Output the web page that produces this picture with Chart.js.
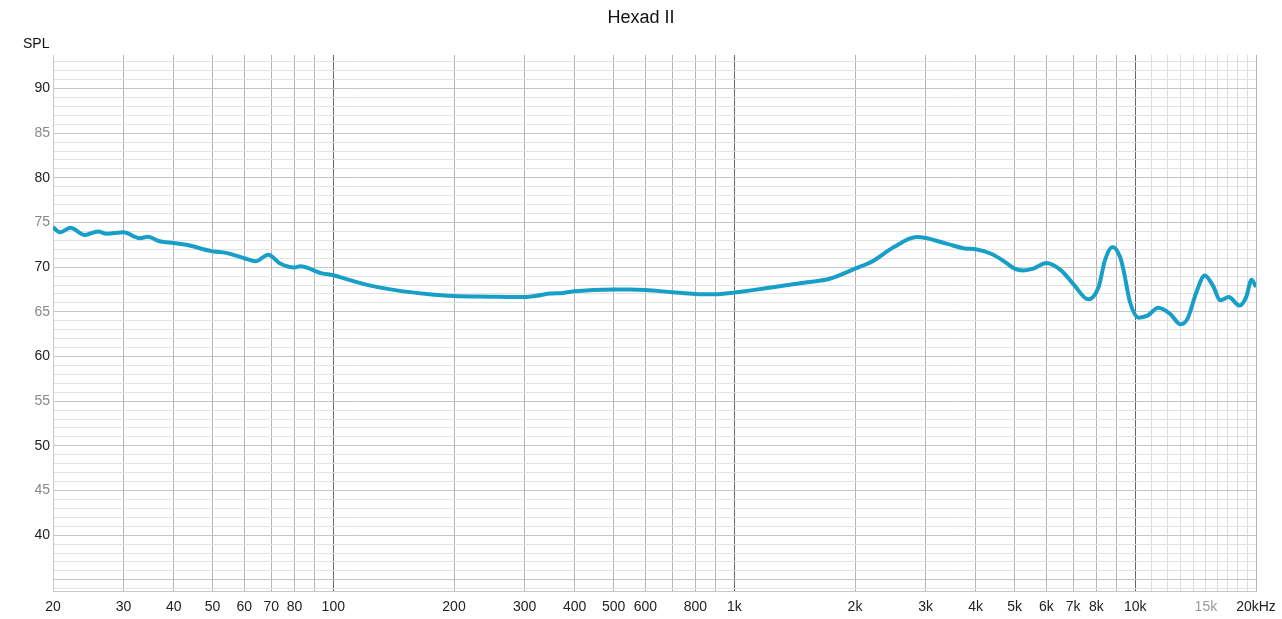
<!DOCTYPE html>
<html>
<head>
<meta charset="utf-8">
<title>Hexad II</title>
<script src="https://cdn.jsdelivr.net/npm/chart.js@4.4.1/dist/chart.umd.min.js"></script>
<style>
  html, body { margin: 0; padding: 0; background: #fff; }
  #wrap { width: 1282px; height: 619px; }
</style>
</head>
<body>
<div id="wrap"><canvas id="chart" width="1282" height="619"></canvas></div>
<script>
// frequency response
const freqs = [20, 20.8, 22.1, 24.0, 25.9, 27.2, 30, 32.9, 34.5, 36.9, 40, 43, 50, 54, 60, 64, 68.8, 73.7, 80, 82.7, 93.7, 100, 109, 123, 144, 171, 200, 246, 300, 322, 346, 375, 400, 500, 548, 600, 700, 800, 890, 1000, 1100, 1260, 1520, 1730, 2000, 2230, 2500, 2850, 3000, 3400, 3750, 4000, 4370, 4710, 5000, 5260, 5570, 6000, 6530, 7050, 7630, 8100, 8400, 8770, 9170, 9350, 9700, 10200, 10750, 11400, 12200, 12970, 13500, 14200, 14900, 15600, 16300, 17100, 18200, 18900, 19500, 20000];
const spl = [74.5, 73.9, 74.4, 73.6, 74.0, 73.75, 73.9, 73.25, 73.4, 72.9, 72.7, 72.5, 71.77, 71.6, 71.0, 70.65, 71.4, 70.4, 69.95, 70.1, 69.3, 69.1, 68.6, 67.96, 67.4, 67.0, 66.77, 66.7, 66.65, 66.8, 67.05, 67.12, 67.3, 67.5, 67.5, 67.44, 67.2, 67.0, 66.96, 67.15, 67.4, 67.78, 68.3, 68.7, 69.83, 70.76, 72.25, 73.37, 73.26, 72.6, 72.1, 72.0, 71.5, 70.65, 69.83, 69.64, 69.83, 70.46, 69.64, 67.96, 66.4, 67.78, 70.76, 72.25, 71.1, 69.64, 66.1, 64.35, 64.6, 65.47, 64.8, 63.6, 64.24, 67.2, 69.08, 67.96, 66.3, 66.65, 65.7, 66.65, 68.6, 67.78];

// grid lines and labels
const xGrid = [20, 30, 40, 50, 60, 70, 80, 90, 100, 200, 300, 400, 500, 600, 700, 800, 900, 1000, 2000, 3000, 4000, 5000, 6000, 7000, 8000, 9000, 10000, 11000, 12000, 13000, 14000, 15000, 16000, 17000, 18000, 19000, 20000];
const xLabels = { 20: "20", 30: "30", 40: "40", 50: "50", 60: "60", 70: "70", 80: "80", 100: "100", 200: "200", 300: "300", 400: "400", 500: "500", 600: "600", 800: "800", 1000: "1k", 2000: "2k", 3000: "3k", 4000: "4k", 5000: "5k", 6000: "6k", 7000: "7k", 8000: "8k", 10000: "10k", 15000: "15k", 20000: "20kHz" };
const yLabels = [40, 45, 50, 55, 60, 65, 70, 75, 80, 85, 90];

const font = "'Liberation Sans', Arial, Helvetica, sans-serif";

const points = freqs.map((f, i) => ({ x: f, y: spl[i] }));

const textPlugin = {
  id: "texts",
  afterDraw(chart) {
    const ctx = chart.ctx;
    ctx.save();
    ctx.fillStyle = "#111";
    ctx.textBaseline = "middle";
    ctx.textAlign = "center";
    ctx.font = "18px " + font;
    ctx.fillText("Hexad II", 641, 18);
    ctx.textAlign = "left";
    ctx.font = "14px " + font;
    ctx.fillText("SPL", 23, 44);
    ctx.restore();
  }
};

new Chart(document.querySelector("#chart"), {
  type: "line",
  data: {
    datasets: [{
      data: points,
      borderColor: "#189fc8",
      borderWidth: 4,
      pointRadius: 0,
      cubicInterpolationMode: "monotone",
      fill: false
    }]
  },
  options: {
    responsive: false,
    animation: false,
    layout: { padding: { top: 55, right: 26, left: 0, bottom: 0 } },
    plugins: {
      legend: { display: false },
      title: { display: false },
      tooltip: { enabled: false }
    },
    scales: {
      x: {
        type: "logarithmic",
        min: 20,
        max: 20000,
        afterBuildTicks(scale) {
          scale.ticks = xGrid.map((v) => ({ value: v }));
        },
        afterFit(scale) {
          scale.height = 28;
          scale.paddingLeft = 0;
          scale.paddingRight = 0;
        },
        grid: {
          drawTicks: false,
          color(c) {
            const v = c.tick ? c.tick.value : 0;
            if (v === 100 || v === 1000 || v === 10000) return "#666";
            if (v > 10000 && v < 20000) return "#dcdcdc";
            return "#b4b4b4";
          }
        },
        border: { color: "#c8c8c8" },
        ticks: {
          autoSkip: false,
          maxRotation: 0,
          padding: 8,
          font: { family: font, size: 14 },
          color(c) { return c.tick && c.tick.value === 15000 ? "#999" : "#222"; },
          callback(v) { return xLabels[v] || ""; }
        }
      },
      y: {
        type: "linear",
        min: 33.75,
        max: 93.75,
        afterBuildTicks(scale) {
          const t = [];
          for (let v = 34; v <= 93; v++) t.push({ value: v });
          scale.ticks = t;
        },
        afterFit(scale) { scale.width = 53; },
        grid: {
          drawTicks: false,
          color(c) {
            const v = c.tick ? c.tick.value : 0;
            return v % 5 === 0 ? "#c4c4c4" : "#e2e2e2";
          }
        },
        border: { color: "#c8c8c8" },
        ticks: {
          autoSkip: false,
          padding: 3,
          font: { family: font, size: 14 },
          color(c) { return c.tick && c.tick.value % 10 === 5 ? "#888" : "#222"; },
          callback(v) { return yLabels.includes(v) ? String(v) : ""; }
        }
      }
    }
  },
  plugins: [textPlugin]
});
</script>
</body>
</html>
